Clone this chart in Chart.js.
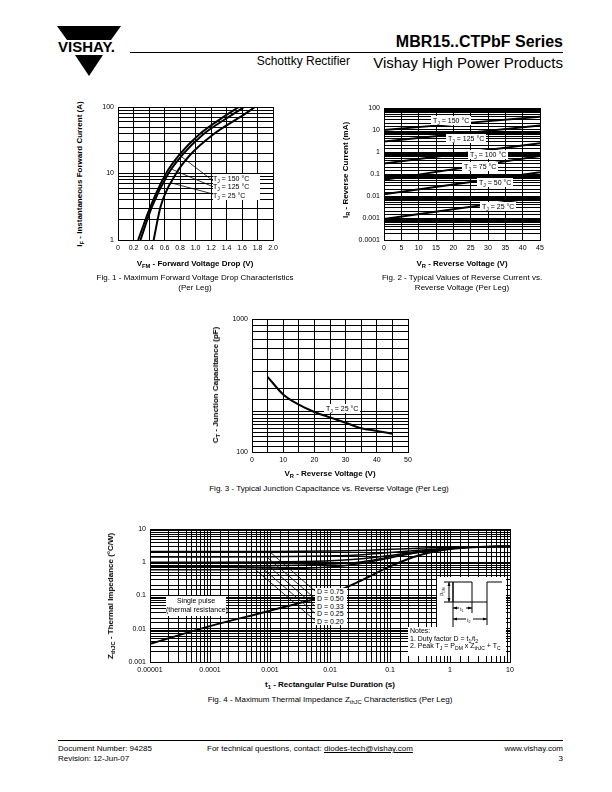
<!DOCTYPE html>
<html lang="en">
<head>
<meta charset="UTF-8">
<title>MBR15..CTPbF Series - Characteristics</title>
<script src="https://cdn.jsdelivr.net/npm/chart.js"></script>
<style>
    body { margin: 0; background: #fff; font-family: "Liberation Sans", Arial, sans-serif; color: #000; }
    .page { position: relative; width: 612px; height: 792px; overflow: hidden; }
    .t { position: absolute; white-space: nowrap; line-height: 1; }
    .chart { position: absolute; }
    .box { position: absolute; background: #fff; font-size: 7px; line-height: 1; white-space: nowrap; }
    .ytitle { position: absolute; font-size: 8px; font-weight: bold; white-space: nowrap; line-height: 1; transform: translate(-50%, -50%) rotate(-90deg); }
    .xtitle { position: absolute; font-size: 8px; font-weight: bold; white-space: nowrap; line-height: 1; transform: translate(-50%, -50%); }
    .cap { position: absolute; font-size: 8px; text-align: center; line-height: 10px; white-space: nowrap; transform: translateX(-50%); }
    sub { font-size: 0.72em; vertical-align: -0.3em; line-height: 0; }
    .rule { position: absolute; height: 1px; background: #000; }
</style>
</head>
<body>
<div class="page">
    <!-- header -->
    <svg class="t" style="left:55px;top:24px" width="70" height="56">
        <polygon points="2,2 66,2 56,16 12,16" fill="#000"/>
        <text x="3" y="28" font-family="Liberation Sans, Arial" font-weight="bold" font-size="15">VISHAY.</text>
        <polygon points="20,31 48,31 34,52" fill="#000"/>
    </svg>
    <div class="t" style="right:49px;top:34px;font-size:16px;font-weight:bold">MBR15..CTPbF Series</div>
    <div class="rule" style="left:130px;top:52px;width:433px"></div>
    <div class="t" style="right:262px;top:55px;font-size:12px">Schottky Rectifier</div>
    <div class="t" style="right:49px;top:55px;font-size:15px">Vishay High Power Products</div>

    <!-- charts -->
    <canvas id="fig1" class="chart" style="left:90px;top:100px" width="193" height="158"></canvas>
    <canvas id="fig2" class="chart" style="left:350px;top:100px" width="200" height="158"></canvas>
    <canvas id="fig3" class="chart" style="left:215px;top:312px" width="203" height="158"></canvas>
    <canvas id="fig4" class="chart" style="left:112px;top:520px" width="410" height="160"></canvas>

    <!-- fig 1 texts -->
    <div class="box" style="left:213px;top:174px;width:47px;height:25px;padding-top:1px;line-height:8.3px">
        T<sub>J</sub> = 150 °C<br>T<sub>J</sub> = 125 °C<br>T<sub>J</sub> = 25 °C
    </div>
    <div class="ytitle" style="left:80px;top:174px">I<sub>F</sub> - Instantaneous Forward Current (A)</div>
    <div class="xtitle" style="left:195px;top:264px">V<sub>FM</sub> - Forward Voltage Drop (V)</div>
    <div class="cap" style="left:195px;top:273px">Fig. 1 - Maximum Forward Voltage Drop Characteristics<br>(Per Leg)</div>

    <!-- fig 2 texts -->
    <div class="box" style="left:431px;top:116px;padding:1px 2px">T<sub>J</sub> = 150 °C</div>
    <div class="box" style="left:446px;top:134px;padding:1px 2px">T<sub>J</sub> = 125 °C</div>
    <div class="box" style="left:468px;top:150px;padding:1px 2px">T<sub>J</sub> = 100 °C</div>
    <div class="box" style="left:462px;top:162px;padding:1px 2px">T<sub>J</sub> = 75 °C</div>
    <div class="box" style="left:477px;top:178px;padding:1px 2px">T<sub>J</sub> = 50 °C</div>
    <div class="box" style="left:480px;top:202px;padding:1px 2px">T<sub>J</sub> = 25 °C</div>
    <div class="ytitle" style="left:346px;top:170px">I<sub>R</sub> - Reverse Current (mA)</div>
    <div class="xtitle" style="left:462px;top:264px">V<sub>R</sub> - Reverse Voltage (V)</div>
    <div class="cap" style="left:462px;top:273px">Fig. 2 - Typical Values of Reverse Current vs.<br>Reverse Voltage (Per Leg)</div>

    <!-- fig 3 texts -->
    <div class="box" style="left:324px;top:404px;padding:1px 2px">T<sub>J</sub> = 25 °C</div>
    <div class="ytitle" style="left:216px;top:385px">C<sub>T</sub> - Junction Capacitance (pF)</div>
    <div class="xtitle" style="left:330px;top:474px">V<sub>R</sub> - Reverse Voltage (V)</div>
    <div class="cap" style="left:329px;top:484px">Fig. 3 - Typical Junction Capacitance vs. Reverse Voltage (Per Leg)</div>

    <!-- fig 4 texts -->
    <div class="box" style="left:166px;top:596px;width:60px;height:20px;text-align:center;line-height:9px">Single pulse<br>(thermal resistance)</div>
    <div class="box" style="left:315px;top:588px;width:30px;height:37px;padding-left:2px;line-height:7.4px">D = 0.75<br>D = 0.50<br>D = 0.33<br>D = 0.25<br>D = 0.20</div>
    <svg class="t" style="left:408px;top:577px;background:transparent" width="98" height="79">
        <rect x="29" y="0" width="69" height="50" fill="#fff"/>
        <rect x="0" y="50" width="98" height="29" fill="#fff"/>
        <g stroke="#000" stroke-width="1" fill="none">
            <polyline points="45,25 45,5 64,5 64,25 79,25 79,5 94,5"/>
            <line x1="45" y1="5" x2="45" y2="50"/>
            <line x1="64" y1="25" x2="64" y2="36"/>
            <line x1="79" y1="25" x2="79" y2="48"/>
            <line x1="36" y1="5" x2="45" y2="5"/>
            <line x1="36" y1="25" x2="64" y2="25"/>
            <line x1="41" y1="5" x2="41" y2="25"/>
            <line x1="45" y1="31" x2="64" y2="31"/>
            <line x1="45" y1="42" x2="79" y2="42"/>
        </g>
        <g fill="#000">
            <polygon points="41,5 39.5,9 42.5,9"/>
            <polygon points="41,25 39.5,21 42.5,21"/>
            <polygon points="45,31 49,29.5 49,32.5"/>
            <polygon points="64,31 60,29.5 60,32.5"/>
            <polygon points="45,42 49,40.5 49,43.5"/>
            <polygon points="79,42 75,40.5 75,43.5"/>
        </g>
        <rect x="51" y="28" width="7" height="6" fill="#fff"/>
        <rect x="58" y="39" width="7" height="6" fill="#fff"/>
        <text x="52" y="33.5" font-size="5" font-family="Liberation Sans, Arial">t<tspan font-size="3.5" dy="1">1</tspan></text>
        <text x="59" y="44.5" font-size="5" font-family="Liberation Sans, Arial">t<tspan font-size="3.5" dy="1">2</tspan></text>
        <text x="36" y="19" font-size="5" font-family="Liberation Sans, Arial" transform="rotate(-90 36 19)">P<tspan font-size="3.5" dy="1">DM</tspan></text>
    </svg>
    <div class="box" style="left:410px;top:627px;line-height:7.6px;background:transparent">Notes:<br>1. Duty factor D = t<sub>1</sub>/t<sub>2</sub><br>2. Peak T<sub>J</sub> = P<sub>DM</sub> x Z<sub>thJC</sub> + T<sub>C</sub></div>
    <div class="ytitle" style="left:111px;top:596px">Z<sub>thJC</sub> - Thermal Impedance (°C/W)</div>
    <div class="xtitle" style="left:330px;top:685px">t<sub>1</sub> - Rectangular Pulse Duration (s)</div>
    <div class="cap" style="left:330px;top:695px">Fig. 4 - Maximum Thermal Impedance Z<sub>thJC</sub> Characteristics (Per Leg)</div>

    <!-- footer -->
    <div class="rule" style="left:58px;top:740px;width:505px"></div>
    <div class="t" style="left:58px;top:744px;font-size:8px;line-height:10px">Document Number: 94285<br>Revision: 12-Jun-07</div>
    <div class="t" style="left:207px;top:744px;font-size:8px;line-height:10px">For technical questions, contact: <u>diodes-tech@vishay.com</u></div>
    <div class="t" style="right:49px;top:744px;font-size:8px;line-height:10px;text-align:right">www.vishay.com<br>3</div>
</div>

<script>
    // Fig. 1 - forward characteristics (V, A)
    const fig1IF = [1, 3.2, 10, 19, 38, 76, 100];
    const fig1VF150 = [0.26, 0.42, 0.62, 0.79, 1.04, 1.40, 1.56];
    const fig1VF125 = [0.29, 0.44, 0.65, 0.83, 1.09, 1.47, 1.63];
    const fig1VF25 = [0.46, 0.55, 0.75, 0.93, 1.22, 1.62, 1.77];
    const fig1XLabels = ['0', '0.2', '0.4', '0.6', '0.8', '1.0', '1.2', '1.4', '1.6', '1.8', '2.0'];
    const fig1YLabels = ['1', '10', '100'];
    // leader lines: [curve point, label point]
    const fig1Lead150 = [[0.79, 19], [1.23, 7.7]];
    const fig1Lead125 = [[0.70, 11.5], [1.23, 6.3]];
    const fig1Lead25 = [[0.69, 7.2], [1.23, 4.9]];

    // Fig. 2 - reverse current (V, mA)
    const fig2VR = [0, 45];
    const fig2IR150 = [10, 40];
    const fig2IR125 = [3, 16];
    const fig2IR100 = [0.3, 2.5];
    const fig2IR75 = [0.054, 0.66];
    const fig2IR50 = [0.012, 0.12];
    const fig2IR25 = [0.0009, 0.009];
    const fig2XLabels = ['0', '5', '10', '15', '20', '25', '30', '35', '40', '45'];
    const fig2YLabels = ['0.0001', '0.001', '0.01', '0.1', '1', '10', '100'];

    // Fig. 3 - junction capacitance (V, pF)
    const fig3VR = [5, 10, 15, 20, 25, 30, 35, 40, 45];
    const fig3CT = [367, 271, 227, 200, 182, 166, 151, 144, 137];
    const fig3XLabels = ['0', '10', '20', '30', '40', '50'];
    const fig3YLabels = ['100', '1000'];

    // Fig. 4 - thermal impedance (s, °C/W)
    const fig4T = [1e-5, 1e-4, 1e-3, 1e-2, 3e-2, 1e-1, 3e-1, 1, 3, 10];
    const fig4Single = [0.0035, 0.012, 0.035, 0.11, 0.26, 0.75, 1.6, 2.5, 2.9, 3.0];
    const fig4D75 = [2.1, 2.1, 2.12, 2.18, 2.25, 2.45, 2.65, 2.85, 2.95, 3.0];
    const fig4D50 = [1.45, 1.45, 1.47, 1.55, 1.65, 1.95, 2.3, 2.7, 2.9, 3.0];
    const fig4D33 = [1.0, 1.0, 1.02, 1.1, 1.25, 1.6, 2.1, 2.6, 2.9, 3.0];
    const fig4D25 = [0.75, 0.75, 0.78, 0.88, 1.0, 1.45, 2.0, 2.6, 2.9, 3.0];
    const fig4D20 = [0.6, 0.6, 0.63, 0.72, 0.9, 1.35, 1.95, 2.55, 2.9, 3.0];
    const fig4Leads = [
        [[0.00098, 2.1], [0.0058, 0.13]],
        [[0.00088, 1.45], [0.0058, 0.077]],
        [[0.00080, 1.0], [0.0058, 0.046]],
        [[0.00069, 0.75], [0.0058, 0.028]],
        [[0.00057, 0.6], [0.0058, 0.017]]
    ];
    const fig4XLabels = ['0.00001', '0.0001', '0.001', '0.01', '0.1', '1', '10'];
    const fig4YLabels = ['0.001', '0.01', '0.1', '1', '10'];

    Chart.defaults.font.family = '"Liberation Sans", Arial, sans-serif';
    Chart.defaults.font.size = 7;
    Chart.defaults.color = '#000';

    function pts(xs, ys) {
        return xs.map((x, i) => ({ x: x, y: ys[i] }));
    }
    function curve(xs, ys, width) {
        return { data: pts(xs, ys), borderWidth: width || 2, cubicInterpolationMode: 'monotone' };
    }
    function lead(pair) {
        return { data: pair.map(p => ({ x: p[0], y: p[1] })), borderWidth: 0.8 };
    }
    function logCallback(labels, minExp) {
        return function (value) {
            const e = Math.log10(value);
            const r = Math.round(e);
            return Math.abs(e - r) < 1e-6 ? labels[r - minExp] : '';
        };
    }
    function axis(type, min, max, size, isY, ticks) {
        return {
            type: type, min: min, max: max,
            border: { color: '#000', width: 1 },
            grid: { color: '#000', lineWidth: 1, drawTicks: false },
            ticks: Object.assign({ autoSkip: false, maxRotation: 0, padding: 4 }, ticks),
            afterFit: function (s) {
                if (isY) s.width = size; else s.height = size;
                s.paddingLeft = 0; s.paddingRight = 0; s.paddingTop = 0; s.paddingBottom = 0;
            }
        };
    }
    function makeChart(id, datasets, x, y, pad) {
        return new Chart(document.getElementById(id), {
            type: 'line',
            data: { datasets: datasets },
            options: {
                responsive: false,
                animation: false,
                events: [],
                layout: { padding: pad },
                plugins: { legend: { display: false }, tooltip: { enabled: false } },
                elements: { point: { radius: 0 }, line: { borderColor: '#000', fill: false } },
                scales: { x: x, y: y }
            }
        });
    }

    makeChart('fig1', [
        curve(fig1VF150, fig1IF), curve(fig1VF125, fig1IF), curve(fig1VF25, fig1IF),
        lead(fig1Lead150), lead(fig1Lead125), lead(fig1Lead25)
    ],
        axis('linear', 0, 2, 18, false, { stepSize: 0.2, callback: (v, i) => fig1XLabels[i] }),
        axis('logarithmic', 1, 100, 28, true, { callback: logCallback(fig1YLabels, 0) }),
        { top: 7, right: 10, left: 0, bottom: 0 });

    makeChart('fig2', [
        curve(fig2VR, fig2IR150, 1.8), curve(fig2VR, fig2IR125, 1.8), curve(fig2VR, fig2IR100, 1.8),
        curve(fig2VR, fig2IR75, 1.8), curve(fig2VR, fig2IR50, 1.8), curve(fig2VR, fig2IR25, 1.8)
    ],
        axis('linear', 0, 45, 18, false, { stepSize: 5, callback: (v, i) => fig2XLabels[i] }),
        axis('logarithmic', 0.0001, 100, 34, true, { callback: logCallback(fig2YLabels, -4) }),
        { top: 8, right: 10, left: 0, bottom: 0 });

    makeChart('fig3', [curve(fig3VR, fig3CT)],
        axis('linear', 0, 50, 18, false, { stepSize: 5, callback: (v, i) => (i % 2 === 0 ? fig3XLabels[i / 2] : '') }),
        axis('logarithmic', 100, 1000, 37, true, { callback: logCallback(fig3YLabels, 2) }),
        { top: 7, right: 10, left: 0, bottom: 0 });

    makeChart('fig4', [
        curve(fig4T, fig4Single), curve(fig4T, fig4D75, 1.5), curve(fig4T, fig4D50, 1.5),
        curve(fig4T, fig4D33, 1.5), curve(fig4T, fig4D25, 1.5), curve(fig4T, fig4D20, 1.5)
    ].concat(fig4Leads.map(lead)),
        axis('logarithmic', 0.00001, 10, 18, false, { callback: logCallback(fig4XLabels, -5) }),
        axis('logarithmic', 0.001, 10, 38, true, { callback: logCallback(fig4YLabels, -3) }),
        { top: 9, right: 12, left: 0, bottom: 0 });
</script>
</body>
</html>
